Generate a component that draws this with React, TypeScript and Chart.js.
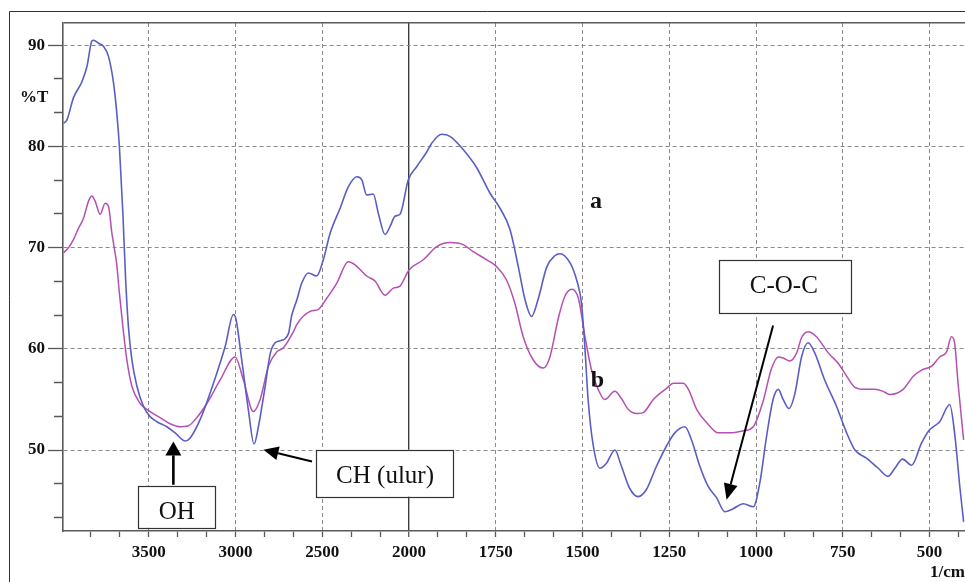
import React, { useEffect, useRef } from 'react';
import { Chart, registerables } from 'chart.js';

Chart.register(...registerables);

// ---- data (wavenumber in 1/cm, transmittance in %T) ----
const waveA = [
  3991, 3972, 3934, 3885, 3856, 3828, 3818, 3790, 3761, 3732, 3703, 3684, 3669, 3649, 3633, 3617, 3597, 3568, 3530,
  3492, 3453, 3396, 3348, 3290, 3261, 3204, 3127, 3060, 3012, 2998, 2964, 2926, 2893, 2868, 2829, 2800, 2772, 2743,
  2695, 2676, 2647, 2618, 2580, 2532, 2494, 2455, 2397, 2350, 2301, 2272, 2244, 2206, 2177, 2138, 2109, 2081, 2052,
  2004, 1978, 1950, 1935, 1906, 1882, 1844, 1805, 1767, 1738, 1709, 1685, 1666, 1647, 1628, 1603, 1580, 1565, 1536,
  1517, 1503, 1493, 1484, 1469, 1450, 1431, 1407, 1388, 1364, 1340, 1316, 1287, 1258, 1234, 1205, 1186, 1162, 1138,
  1114, 1090, 1066, 1037, 1008, 989, 970, 951, 936, 922, 905, 888, 869, 850, 831, 802, 768, 739, 715, 682, 648, 620,
  600, 578, 552, 523, 500, 471, 442, 428, 413, 402,
];
const transA = [
  82.3, 82.6, 84.8, 86.4, 87.9, 90.4, 90.5, 90.2, 89.9, 88.9, 86.3, 83.3, 80.0, 73.4, 66.8, 62.2, 58.9, 56.3, 54.3,
  53.3, 52.8, 52.3, 51.7, 50.9, 51.2, 53.0, 56.6, 60.2, 63.4, 63.0, 58.9, 54.0, 50.6, 52.3, 56.3, 59.5, 60.6, 60.8,
  61.5, 63.3, 64.8, 66.5, 67.5, 67.2, 68.8, 71.4, 73.9, 76.0, 77.0, 76.7, 75.2, 75.3, 73.4, 71.3, 72.1, 73.1, 73.3,
  76.7, 78.0, 79.4, 80.3, 81.2, 81.0, 79.7, 77.9, 75.4, 73.9, 71.8, 68.1, 64.9, 63.2, 64.9, 68.1, 69.2, 69.4, 68.5,
  66.8, 64.5, 60.0, 55.0, 50.4, 48.2, 48.7, 50.0, 48.4, 46.2, 45.4, 46.1, 48.4, 50.4, 51.7, 52.3, 51.0, 48.4, 46.4,
  45.3, 43.9, 44.2, 44.7, 44.4, 46.8, 51.3, 55.0, 56.0, 55.0, 54.1, 55.6, 59.2, 60.6, 59.6, 56.9, 54.3, 51.7, 50.0,
  49.2, 48.2, 47.4, 48.2, 49.1, 48.5, 50.7, 52.0, 52.8, 54.5, 51.7, 46.4, 42.9,
];
const waveB = [
  3991, 3962, 3934, 3905, 3876, 3847, 3828, 3809, 3780, 3751, 3732, 3712, 3697, 3684, 3669, 3649, 3626, 3597, 3549,
  3492, 3434, 3377, 3319, 3271, 3223, 3165, 3089, 3002, 2954, 2897, 2858, 2810, 2762, 2724, 2666, 2647, 2570, 2522,
  2474, 2416, 2350, 2311, 2244, 2196, 2138, 2090, 2052, 2000, 1959, 1920, 1882, 1844, 1815, 1776, 1747, 1719, 1695,
  1671, 1642, 1613, 1594, 1570, 1551, 1531, 1512, 1493, 1474, 1455, 1436, 1407, 1388, 1368, 1344, 1325, 1296, 1258,
  1238, 1210, 1195, 1171, 1142, 1109, 1076, 1037, 1008, 980, 956, 936, 922, 903, 883, 869, 850, 826, 792, 764, 739,
  715, 687, 658, 634, 615, 576, 547, 523, 494, 471, 451, 437, 428, 418, 402,
];
const transB = [
  69.5, 70.0, 70.8, 71.9, 72.9, 74.6, 75.1, 74.6, 73.3, 74.4, 74.1, 71.4, 69.8, 68.3, 65.5, 62.2, 58.9, 56.3, 54.6,
  53.8, 53.2, 52.6, 52.3, 52.4, 53.2, 54.6, 56.9, 59.2, 56.9, 53.8, 55.0, 58.3, 59.7, 60.1, 61.7, 62.4, 63.7, 63.9,
  65.0, 66.5, 68.6, 68.3, 67.2, 66.7, 65.3, 66.0, 66.2, 67.8, 68.8, 70.1, 70.5, 70.3, 69.6, 68.8, 68.1, 66.8, 64.5,
  61.2, 58.9, 58.1, 59.2, 63.0, 65.2, 65.9, 65.0, 61.2, 57.9, 56.0, 55.0, 55.8, 55.1, 54.0, 53.6, 53.7, 55.0, 56.1,
  56.6, 56.6, 56.0, 54.0, 52.7, 51.7, 51.7, 51.9, 52.3, 54.8, 58.0, 59.2, 59.1, 58.8, 59.6, 61.1, 61.7, 61.2, 59.6,
  58.6, 57.3, 56.2, 56.0, 56.0, 55.8, 55.5, 56.0, 57.3, 57.9, 58.3, 59.2, 59.7, 61.2, 60.6, 56.6, 51.0,
];

const xMajorLabels = [3500, 3000, 2500, 2000, 1750, 1500, 1250, 1000, 750, 500];
const yMajorLabels = [50, 60, 70, 80, 90];
const xWaveMax = 3994;
const xWaveMin = 398;
const yMin = 42.0;
const yMax = 92.2;

// FTIR-style axis: above 2000 1/cm the scale is compressed by 2
const toAxis = (w: number) => (w > 2000 ? 2000 + (w - 2000) / 2 : w);
const fromAxis = (u: number) => (u > 2000 ? 2000 + (u - 2000) * 2 : u);

const annotations = [
  { text: 'OH', box: [3561, 46.47, 3117, 42.32], textAt: [3338, 44.05], tail: [3358, 46.57], tip: [3358, 50.85], head: [14, 8], lw: 2.6 },
  { text: 'CH (ulur)', box: [2536, 50.03, 1873, 45.39], textAt: [2138, 47.53], tail: [2559, 48.87], tip: [2839, 50.03], head: [15, 7], lw: 2 },
  { text: 'C-O-C', box: [1107, 68.8, 727, 63.57], textAt: [920, 66.33], tail: [951, 62.31], tip: [1085, 45.09], head: [16, 7], lw: 2 },
];
const curveLabels = [
  { text: 'a', at: [1461, 73.91] },
  { text: 'b', at: [1457, 56.26] },
];

const SERIF = "'Liberation Serif', 'Times New Roman', serif";
const GRID = '#8a8a8a';
const AXIS = '#5a5a5a';

const isMajorX = (u: number) => xMajorLabels.some((w) => Math.abs(toAxis(w) - u) < 1e-6);
const isMajorY = (v: number) => yMajorLabels.some((m) => Math.abs(m - v) < 1e-6);

function buildXTicks() {
  const lo = toAxis(xWaveMin);
  const hi = toAxis(xWaveMax);
  const step = 250 / 3;
  const out: { value: number }[] = [];
  for (let n = -10; n < 60; n++) {
    const u = 500 + n * step;
    if (u >= lo && u <= hi) out.push({ value: Math.abs(u - Math.round(u)) < 1e-6 ? Math.round(u) : u });
  }
  return out;
}
function buildYTicks() {
  const out: { value: number }[] = [];
  for (let n = -5; n < 20; n++) {
    const v = 50 + (n * 10) / 3;
    if (v >= yMin && v <= yMax) out.push({ value: n % 3 === 0 ? Math.round(v) : v });
  }
  out.push({ value: yMax });
  return out;
}

function drawArrow(ctx: CanvasRenderingContext2D, x1: number, y1: number, x2: number, y2: number, len: number, half: number, lw: number) {
  const a = Math.atan2(y2 - y1, x2 - x1);
  const bx = x2 - len * Math.cos(a);
  const by = y2 - len * Math.sin(a);
  ctx.lineWidth = lw;
  ctx.beginPath();
  ctx.moveTo(x1, y1);
  ctx.lineTo(bx, by);
  ctx.stroke();
  ctx.beginPath();
  ctx.moveTo(x2, y2);
  ctx.lineTo(bx + half * Math.sin(a), by - half * Math.cos(a));
  ctx.lineTo(bx - half * Math.sin(a), by + half * Math.cos(a));
  ctx.closePath();
  ctx.fill();
}

const decorPlugin = {
  id: 'decor',
  beforeDraw(chart: any) {
    const ctx = chart.ctx as CanvasRenderingContext2D;
    ctx.save();
    ctx.strokeStyle = '#333';
    ctx.lineWidth = 1;
    ctx.beginPath();
    ctx.moveTo(9.5, chart.height);
    ctx.lineTo(9.5, 11.5);
    ctx.lineTo(chart.width, 11.5);
    ctx.stroke();
    ctx.restore();
  },
  afterDraw(chart: any) {
    const ctx = chart.ctx as CanvasRenderingContext2D;
    const x = chart.scales.x;
    const y = chart.scales.y;
    const P = (w: number, v: number) => [x.getPixelForValue(toAxis(w)), y.getPixelForValue(v)];
    ctx.save();
    ctx.fillStyle = '#111';
    ctx.font = `bold 17px ${SERIF}`;
    ctx.textAlign = 'left';
    ctx.textBaseline = 'alphabetic';
    ctx.fillText('%T', 20, 101.5);
    ctx.fillText('1/cm', 930, 576.5);

    ctx.font = `bold 24px ${SERIF}`;
    ctx.textAlign = 'center';
    for (const c of curveLabels) {
      const [px, py] = P(c.at[0], c.at[1]);
      ctx.fillText(c.text, px, py);
    }
    ctx.font = `25px ${SERIF}`;
    for (const an of annotations) {
      const [bx1, by1] = P(an.box[0], an.box[1]);
      const [bx2, by2] = P(an.box[2], an.box[3]);
      ctx.fillStyle = '#ffffff';
      ctx.fillRect(bx1, by1, bx2 - bx1, by2 - by1);
      ctx.strokeStyle = '#333';
      ctx.lineWidth = 1.2;
      ctx.strokeRect(Math.round(bx1) + 0.5, Math.round(by1) + 0.5, Math.round(bx2 - bx1), Math.round(by2 - by1));
      const [tx, ty] = P(an.textAt[0], an.textAt[1]);
      ctx.fillStyle = '#111';
      ctx.fillText(an.text, tx, ty + 8.3);
      const [ax1, ay1] = P(an.tail[0], an.tail[1]);
      const [ax2, ay2] = P(an.tip[0], an.tip[1]);
      ctx.strokeStyle = '#000';
      ctx.fillStyle = '#000';
      drawArrow(ctx, ax1, ay1, ax2, ay2, an.head[0], an.head[1], an.lw);
    }
    ctx.restore();
  },
};

export default function App() {
  const ref = useRef<HTMLCanvasElement | null>(null);
  useEffect(() => {
    if (!ref.current) return;
    const chart = new Chart(ref.current, {
      type: 'line',
      data: {
        datasets: [
          {
            label: 'a',
            data: waveA.map((w, i) => ({ x: toAxis(w), y: transA[i] })),
            borderColor: '#5a5ec4',
            borderWidth: 1.6,
            pointRadius: 0,
            cubicInterpolationMode: 'monotone',
            fill: false,
          },
          {
            label: 'b',
            data: waveB.map((w, i) => ({ x: toAxis(w), y: transB[i] })),
            borderColor: '#b64fb2',
            borderWidth: 1.5,
            pointRadius: 0,
            cubicInterpolationMode: 'monotone',
            fill: false,
          },
        ],
      },
      options: {
        responsive: false,
        animation: false,
        events: [],
        layout: { padding: { top: 23, right: 0, left: 0, bottom: 0 } },
        plugins: { legend: { display: false }, tooltip: { enabled: false } },
        scales: {
          x: {
            type: 'linear',
            reverse: true,
            min: toAxis(xWaveMin),
            max: toAxis(xWaveMax),
            afterBuildTicks: (s: any) => {
              s.ticks = buildXTicks();
            },
            afterFit: (s: any) => {
              s.height = 51;
            },
            ticks: {
              autoSkip: false,
              maxRotation: 0,
              padding: 5,
              color: '#111',
              font: { family: SERIF, size: 17, weight: 'bold' },
              callback: (v: any) => (isMajorX(Number(v)) ? String(Math.round(fromAxis(Number(v)))) : ''),
            },
            grid: {
              drawTicks: true,
              tickLength: 6,
              tickWidth: 1.3,
              tickColor: AXIS,
              color: (c: any) => {
                const v = c.tick ? c.tick.value : 0;
                if (Math.abs(v - 2000) < 1e-6) return '#3c3c3c';
                return isMajorX(v) ? GRID : 'rgba(0,0,0,0)';
              },
              lineWidth: (c: any) => (c.tick && Math.abs(c.tick.value - 2000) < 1e-6 ? 1.4 : 1),
            },
            border: {
              display: true,
              color: AXIS,
              width: 1.6,
              dash: (c: any) => (c.tick && Math.abs(c.tick.value - 2000) < 1e-6 ? [] : [4, 3]),
            },
          },
          y: {
            type: 'linear',
            min: yMin,
            max: yMax,
            afterBuildTicks: (s: any) => {
              s.ticks = buildYTicks();
            },
            afterFit: (s: any) => {
              s.width = 63;
            },
            ticks: {
              autoSkip: false,
              padding: 3,
              color: '#111',
              font: { family: SERIF, size: 17, weight: 'bold' },
              callback: (v: any) => (isMajorY(Number(v)) ? String(Math.round(Number(v))) : ''),
            },
            grid: {
              drawTicks: true,
              tickLength: 15,
              tickWidth: 1.3,
              tickColor: (c: any) => (c.tick && Math.abs(c.tick.value - yMax) < 1e-6 ? 'rgba(0,0,0,0)' : AXIS),
              tickBorderDash: (c: any) => (c.tick && !isMajorY(c.tick.value) ? [0, 6, 9, 100] : []),
              color: (c: any) => {
                const v = c.tick ? c.tick.value : 0;
                if (Math.abs(v - yMax) < 1e-6) return AXIS;
                return isMajorY(v) ? GRID : 'rgba(0,0,0,0)';
              },
              lineWidth: (c: any) => (c.tick && Math.abs(c.tick.value - yMax) < 1e-6 ? 1.6 : 1),
            },
            border: {
              display: true,
              color: AXIS,
              width: 1.6,
              dash: (c: any) => (c.tick && Math.abs(c.tick.value - yMax) < 1e-6 ? [] : [4, 3]),
            },
          },
        },
      },
      plugins: [decorPlugin],
    } as any);
    return () => chart.destroy();
  }, []);
  return (
    <div style={{ position: 'fixed', left: 0, top: 0, width: 965, height: 582, background: '#fff' }}>
      <canvas ref={ref} width={965} height={582} style={{ display: 'block' }} />
    </div>
  );
}
